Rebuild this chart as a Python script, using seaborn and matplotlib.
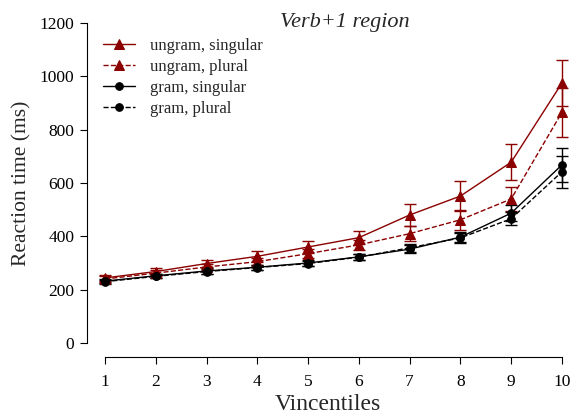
import pandas as pd
import seaborn as sns
import matplotlib.pyplot as plt

# data
vincentiles = [1, 2, 3, 4, 5, 6, 7, 8, 9, 10]
ungram_sg = [244, 268, 298, 325, 360, 395, 480, 551, 678, 975]
ungram_sg_se = [12, 12, 14, 20, 22, 25, 43, 55, 68, 86]
ungram_pl = [240, 262, 285, 305, 335, 368, 410, 462, 540, 865]
ungram_pl_se = [10, 10, 12, 15, 18, 20, 28, 38, 45, 92]
gram_sg = [232, 252, 270, 284, 300, 323, 352, 397, 487, 668]
gram_sg_se = [8, 8, 10, 10, 10, 12, 15, 18, 30, 63]
gram_pl = [230, 250, 268, 283, 298, 322, 357, 394, 466, 642]
gram_pl_se = [8, 8, 9, 9, 10, 12, 14, 18, 25, 61]

series = [
    ("ungram, singular", ungram_sg, ungram_sg_se, "#8b0000", "-", "^", 7),
    ("ungram, plural", ungram_pl, ungram_pl_se, "#8b0000", "--", "^", 7),
    ("gram, singular", gram_sg, gram_sg_se, "black", "-", "o", 5.5),
    ("gram, plural", gram_pl, gram_pl_se, "black", "--", "o", 5.5),
]

sns.set_style("ticks")
plt.rcParams["font.family"] = ["Liberation Serif", "DejaVu Serif"]

fig = plt.figure(figsize=(5.73, 4.15), dpi=100)
ax = fig.add_axes([0.1513, 0.1735, 0.8427, 0.7711])

for name, vals, se, col, ls, mk, ms in series:
    df = pd.DataFrame({"x": vincentiles, "y": vals})
    ax.errorbar(vincentiles, vals, yerr=se, fmt="none", ecolor=col,
                elinewidth=1.0, capsize=4, capthick=1.0, zorder=2)
    sns.lineplot(data=df, x="x", y="y", ax=ax, color=col, linestyle=ls,
                 linewidth=1.0, marker=mk, markersize=ms,
                 markeredgecolor=col, label=name, zorder=3)

ax.set_xlim(0.64, 10.15)
ax.set_ylim(0, 1200)
ax.set_xticks(vincentiles)
ax.set_yticks(range(0, 1201, 200))
ax.tick_params(labelsize=12.5, length=5, width=0.8, colors="black")
ax.tick_params(axis="x", pad=7)
ax.tick_params(axis="y", pad=4)
ax.spines["top"].set_visible(False)
ax.spines["right"].set_visible(False)
ax.spines["bottom"].set_position(("outward", 10))
ax.spines["bottom"].set_bounds(1, 10)
ax.spines["left"].set_bounds(0, 1200)
for s in ["left", "bottom"]:
    ax.spines[s].set_linewidth(0.8)
    ax.spines[s].set_color("black")

ax.set_xlabel("Vincentiles", fontsize=17, labelpad=3)
ax.set_ylabel("Reaction time (ms)", fontsize=15.5, labelpad=6)

fig.text(345 / 573, 1 - 27 / 415, "Verb+1 region", fontsize=16,
         style="italic", ha="center", va="baseline")

leg = ax.legend(loc="upper left", bbox_to_anchor=(0.01, 0.99), frameon=False,
                fontsize=12, handlelength=1.9, labelspacing=0.3,
                handletextpad=0.9, borderaxespad=0.3)

fig.savefig("out.png", dpi=100)
